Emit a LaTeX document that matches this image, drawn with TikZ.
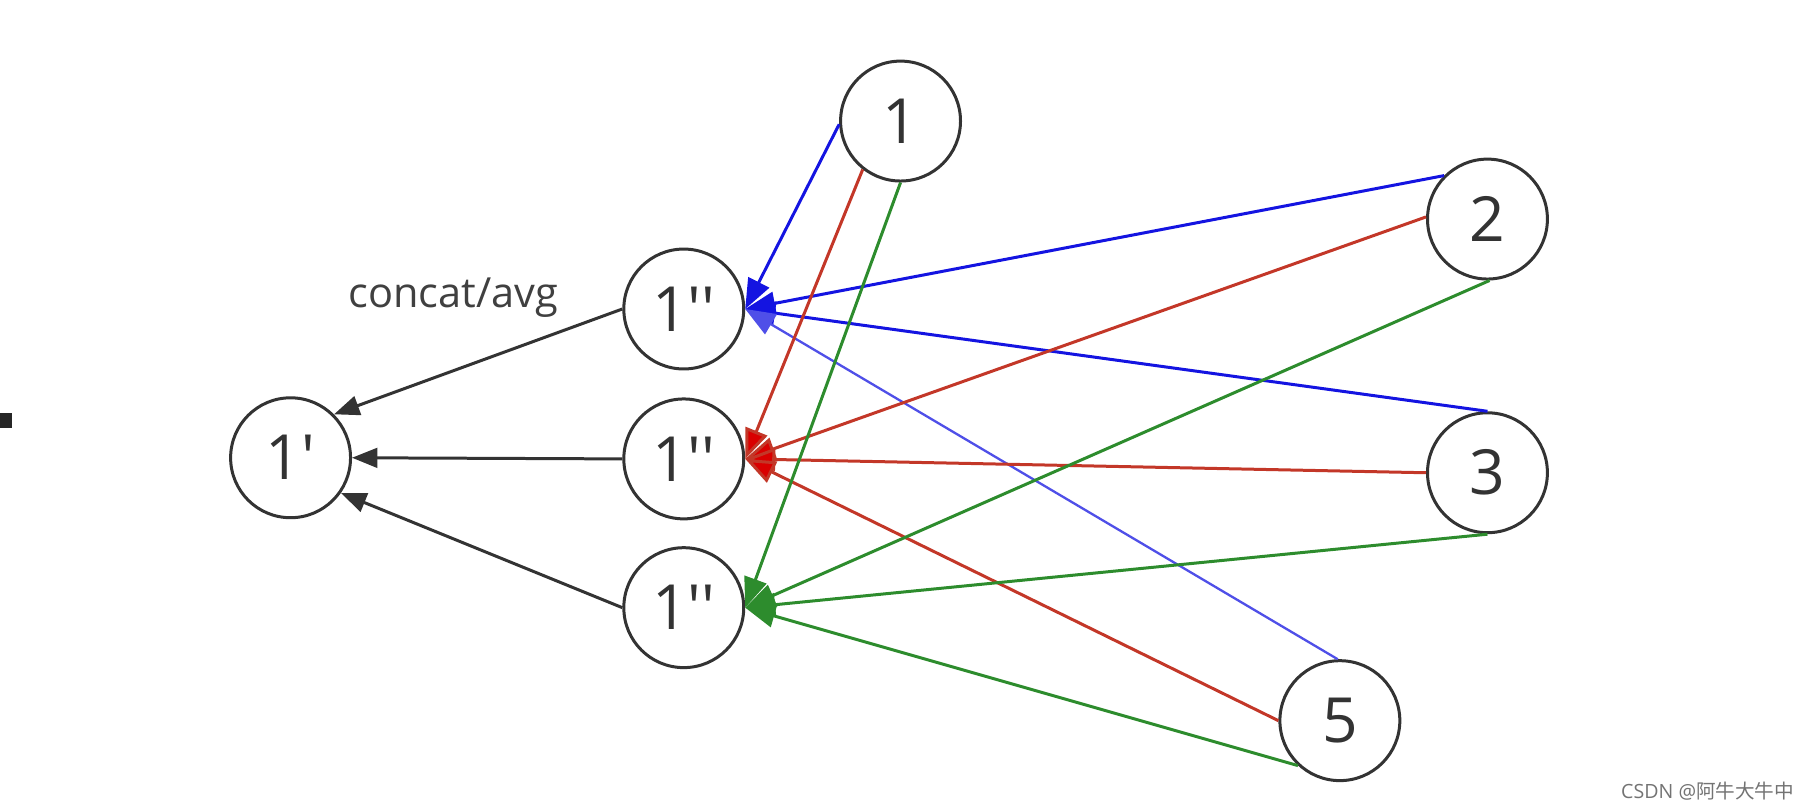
\documentclass[tikz,border=0pt]{standalone}
\usepackage{fontspec}
\setmainfont{Open Sans}
\newfontfamily\cjk{Noto Sans CJK SC}
\usetikzlibrary{arrows.meta}
\definecolor{edgeBlue}{RGB}{20,20,225}
\definecolor{edgeRed}{RGB}{195,55,40}
\definecolor{edgeGreen}{RGB}{45,140,45}
\newcommand{\pr}{\textquotesingle}
\tikzset{%
  >={Triangle[length=13pt,width=10pt]},
  % Specifications for style of nodes:
        base/.style = {circle, draw=black!80, line width=1.3pt,
                       minimum size=52pt, inner sep=0pt, fill=white,
                       text=black!80, font=\fontsize{27}{30}\selectfont},
     inPoint/.style = {base},
    midPoint/.style = {base},
    outPoint/.style = {base},
  % Specifications for style of edges:
    blueEdge/.style = {->, draw=edgeBlue, line width=1.3pt},
     redEdge/.style = {->, draw=edgeRed, line width=1.3pt,
                       >={Triangle[length=13pt,width=10pt,fill=red!85!black]}},
   greenEdge/.style = {->, draw=edgeGreen, line width=1.3pt},
    joinEdge/.style = {->, draw=black!80, line width=1.3pt,
                       >={Triangle[length=11pt,width=8.5pt]}},
}

\begin{document}
\begin{tikzpicture}[x=0.5pt, y=-0.5pt]
  \useasboundingbox (0,0) rectangle (1568,704);
  % Specification of nodes (position, etc.)
  \node (onOne)   [inPoint]  at (781,105)  {1};
  \node (onTwo)   [inPoint]  at (1290,190) {2};
  \node (onThree) [inPoint]  at (1290,410) {3};
  \node (onFive)  [inPoint]  at (1162,625) {5};
  \node (onMidA)  [midPoint] at (593,268)  {1\pr\pr};
  \node (onMidB)  [midPoint] at (593,398)  {1\pr\pr};
  \node (onMidC)  [midPoint] at (593,527)  {1\pr\pr};
  \node (onOut)   [outPoint] at (252,397)  {1\pr};
  \node (onLabel) [text=black!75, font=\fontsize{18}{20}\selectfont]
        at (393,258) {concat/avg};
  % blue edges
  \draw[blueEdge] (onOne.183)   -- (onMidA.east);
  \draw[blueEdge] (onTwo.135)   -- (onMidA.east);
  \draw[blueEdge] (onThree.90)  -- (onMidA.east);
  \draw[blueEdge, draw=edgeBlue!75, line width=1pt]
                  (onFive.92)   -- (onMidA.east);
  % red edges
  \draw[redEdge]  (onOne.232)   -- (onMidB.east);
  \draw[redEdge]  (onTwo.178)   -- (onMidB.east);
  \draw[redEdge]  (onThree.180) -- (onMidB.east);
  \draw[redEdge]  (onFive.180)  -- (onMidB.east);
  % green edges
  \draw[greenEdge] (onOne.270)   -- (onMidC.east);
  \draw[greenEdge] (onTwo.272)   -- (onMidC.east);
  \draw[greenEdge] (onThree.270) -- (onMidC.east);
  \draw[greenEdge] (onFive.227)  -- (onMidC.east);
  % concat/avg edges
  \draw[joinEdge] (onMidA.west) -- (onOut.45);
  \draw[joinEdge] (onMidB.west) -- (onOut.east);
  \draw[joinEdge] (onMidC.west) -- (onOut.-35);
  % left mark and watermark
  \fill[black!85] (0,358) rectangle (10,371);
  \node (onMark) [text=black!55, font=\fontsize{8.5}{10}\selectfont]
        at (1481,686) {CSDN @{\cjk 阿牛大牛中}};
\end{tikzpicture}
\end{document}
